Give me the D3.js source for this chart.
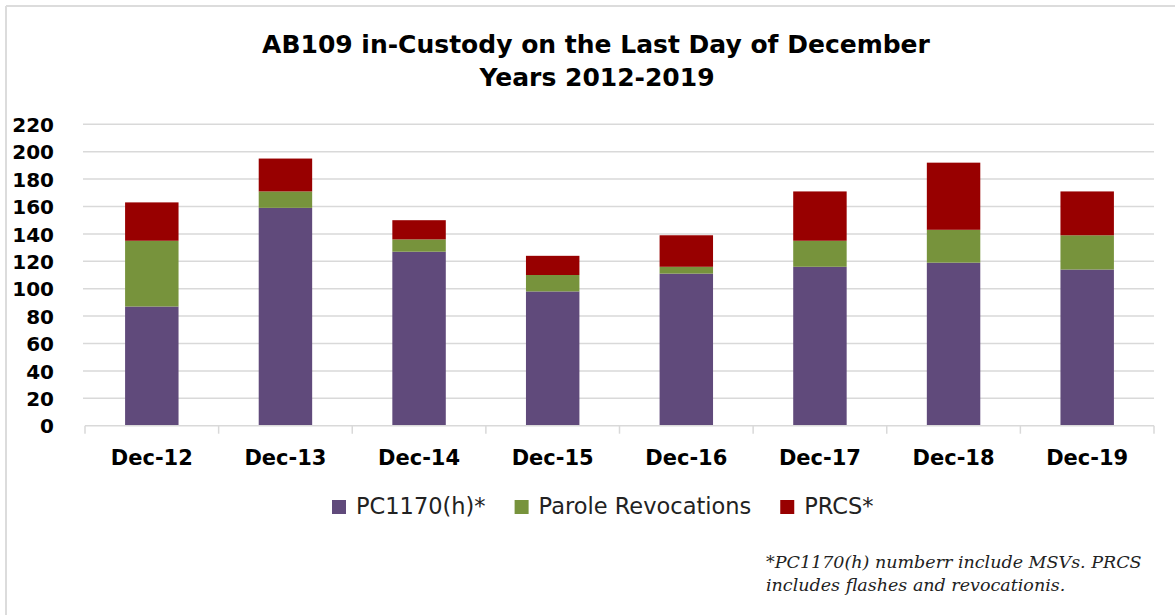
<!DOCTYPE html>
<html>
<head>
<meta charset="utf-8">
<script src="https://cdn.jsdelivr.net/npm/d3@7"></script>
<style>
  body { margin: 0; background: #fff; }
  svg { display: block; }
</style>
</head>
<body>
<div id="chart"></div>
<script>
// chart data
var categories = ["Dec-12", "Dec-13", "Dec-14", "Dec-15", "Dec-16", "Dec-17", "Dec-18", "Dec-19"];
var seriesNames = ["PC1170(h)*", "Parole Revocations", "PRCS*"];
var pc1170 = [87, 159, 127, 98, 111, 116, 119, 114];
var parole = [48, 12, 9, 12, 5, 19, 24, 25];
var prcs = [28, 24, 14, 14, 23, 36, 49, 32];
var yTicks = [0, 20, 40, 60, 80, 100, 120, 140, 160, 180, 200, 220];

var colors = ["#604a7b", "#77933c", "#980000"];

var width = 1175, height = 615;
var svg = d3.select("#chart").append("svg").attr("width", width).attr("height", height);

// outer frame (only left and top edges visible)
svg.append("line").attr("x1", 6).attr("x2", width).attr("y1", 6).attr("y2", 6)
  .attr("stroke", "#dcdcdc").attr("stroke-width", 2);
svg.append("line").attr("x1", 6).attr("x2", 6).attr("y1", 6).attr("y2", height)
  .attr("stroke", "#dcdcdc").attr("stroke-width", 2);

// title
svg.append("text").attr("x", 596).attr("y", 53).attr("text-anchor", "middle")
  .style("font-family", "DejaVu Sans").style("font-weight", "bold").style("font-size", "25px")
  .text("AB109 in-Custody on the Last Day of December");
svg.append("text").attr("x", 597).attr("y", 86).attr("text-anchor", "middle")
  .style("font-family", "DejaVu Sans").style("font-weight", "bold").style("font-size", "25px")
  .text("Years 2012-2019");

var data = categories.map(function (c, i) {
  return { cat: c, pc: pc1170[i], parole: parole[i], prcs: prcs[i] };
});
var stack = d3.stack().keys(["pc", "parole", "prcs"]);
var series = stack(data);

var x = d3.scaleBand().domain(categories).range([85, 1154]).paddingInner(0.6).paddingOuter(0.3);
var y = d3.scaleLinear().domain([0, 220]).range([425.7, 124.3]);

// gridlines
svg.append("g").selectAll("line").data(yTicks.slice(1)).enter().append("line")
  .attr("x1", 83).attr("x2", 1154)
  .attr("y1", function (d) { return y(d); }).attr("y2", function (d) { return y(d); })
  .attr("stroke", "#d9d9d9").attr("stroke-width", 1.5);

// y axis labels
var yAxis = d3.axisLeft(y).tickValues(yTicks).tickSize(0).tickPadding(0);
var gy = svg.append("g").attr("transform", "translate(54,0)").call(yAxis);
gy.select(".domain").remove();
gy.selectAll("text").style("font-family", "DejaVu Sans").style("font-weight", "bold")
  .style("font-size", "20px").attr("fill", "#000").attr("dy", "0.36em");

// bars
svg.append("g").selectAll("g").data(series).enter().append("g")
  .attr("fill", function (d, i) { return colors[i]; })
  .selectAll("rect").data(function (d) { return d; }).enter().append("rect")
  .attr("x", function (d) { return x(d.data.cat); })
  .attr("width", x.bandwidth())
  .attr("y", function (d) { return y(d[1]); })
  .attr("height", function (d) { return y(d[0]) - y(d[1]); });

// x axis line with boundary ticks
var bounds = categories.map(function (c) { return x(c) - x.step() * x.paddingInner() / 2; });
bounds.push(1154);
bounds[0] = 85;
svg.append("line").attr("x1", 85).attr("x2", 1154).attr("y1", y(0)).attr("y2", y(0))
  .attr("stroke", "#d9d9d9").attr("stroke-width", 1.5);
svg.append("g").selectAll("line").data(bounds).enter().append("line")
  .attr("x1", function (d) { return d; }).attr("x2", function (d) { return d; })
  .attr("y1", y(0)).attr("y2", y(0) + 8)
  .attr("stroke", "#d9d9d9").attr("stroke-width", 1.5);

// x labels
var xAxis = d3.axisBottom(x).tickSize(0).tickPadding(0);
var gx = svg.append("g").attr("transform", "translate(0,450)").call(xAxis);
gx.select(".domain").remove();
gx.selectAll("text").style("font-family", "DejaVu Sans").style("font-weight", "bold")
  .style("font-size", "21px").attr("fill", "#000").attr("dy", "0.71em");

// legend
var legend = svg.append("g");
var lx = 332;
seriesNames.forEach(function (name, i) {
  legend.append("rect").attr("x", lx).attr("y", 500).attr("width", 14).attr("height", 14)
    .attr("fill", colors[i]);
  var t = legend.append("text").attr("x", lx + 24).attr("y", 514)
    .style("font-family", "DejaVu Sans").style("font-size", "22.5px").attr("fill", "#222")
    .text(name);
  lx = lx + 24 + t.node().getComputedTextLength() + 29;
});

// footnote
svg.append("text").attr("x", 766).attr("y", 568)
  .style("font-family", "DejaVu Serif").style("font-style", "italic").style("font-size", "17.5px")
  .attr("fill", "#222")
  .text("*PC1170(h) numberr include MSVs. PRCS");
svg.append("text").attr("x", 766).attr("y", 591)
  .style("font-family", "DejaVu Serif").style("font-style", "italic").style("font-size", "17.5px")
  .attr("fill", "#222")
  .text("includes flashes and revocationis.");
</script>
</body>
</html>
